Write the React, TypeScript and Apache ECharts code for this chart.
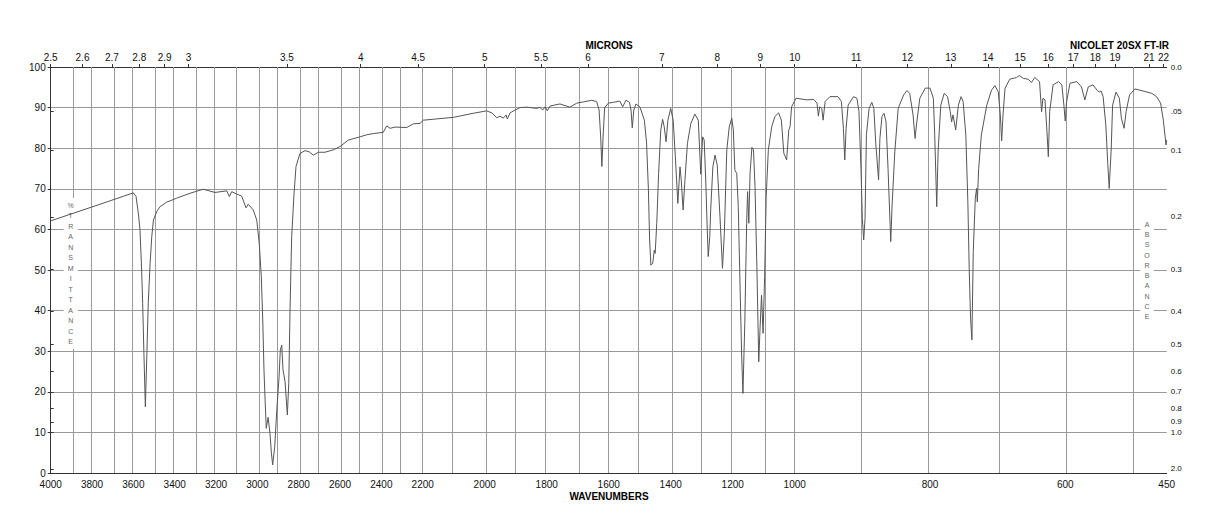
import React, { useEffect, useRef } from "react";
import * as echarts from "echarts";

// Spectrum: wavenumber (cm-1) and %transmittance
const wavenumbers = [
  4000, 3761, 3600, 3587, 3576, 3568, 3560, 3555, 3549, 3542,
  3535, 3528, 3519, 3511, 3503, 3487, 3471, 3439, 3390, 3326,
  3262, 3205, 3148, 3136, 3124, 3100, 3076, 3055, 3044, 3020,
  3003, 2991, 2981, 2974, 2968, 2962, 2957, 2948, 2939, 2932,
  2926, 2916, 2906, 2895, 2889, 2882, 2876, 2866, 2855, 2848,
  2842, 2834, 2823, 2813, 2794, 2769, 2749, 2729, 2705, 2673,
  2632, 2600, 2560, 2503, 2471, 2439, 2391, 2374, 2358, 2334,
  2277, 2245, 2213, 2198, 2101, 2037, 1994, 1977, 1961, 1951,
  1940, 1931, 1927, 1918, 1902, 1886, 1864, 1832, 1822, 1813,
  1805, 1798, 1789, 1757, 1725, 1703, 1682, 1655, 1639, 1631,
  1626, 1622, 1618, 1613, 1601, 1585, 1564, 1555, 1544, 1533,
  1528, 1524, 1519, 1512, 1499, 1485, 1478, 1472, 1468, 1464,
  1458, 1453, 1450, 1445, 1439, 1432, 1426, 1421, 1415, 1409,
  1400, 1392, 1385, 1377, 1370, 1366, 1360, 1354, 1346, 1335,
  1322, 1311, 1303, 1297, 1292, 1287, 1282, 1279, 1274, 1271,
  1264, 1257, 1250, 1241, 1233, 1227, 1219, 1211, 1203, 1198,
  1193, 1187, 1182, 1176, 1171, 1167, 1161, 1155, 1152, 1148,
  1144, 1138, 1133, 1128, 1122, 1116, 1112, 1107, 1102, 1097,
  1092, 1085, 1074, 1064, 1052, 1043, 1035, 1026, 1019, 1015,
  1010, 998, 982, 972, 967, 965, 963, 960, 958, 955,
  948, 936, 931, 928, 926, 924, 921, 913, 908, 905,
  902, 900, 898, 896, 894, 890, 886, 883, 880, 876,
  874, 871, 868, 865, 862, 858, 856, 852, 847, 839,
  834, 830, 825, 822, 820, 815, 807, 800, 795, 793,
  790, 788, 784, 779, 774, 770, 768, 766, 762, 758,
  754, 751, 747, 744, 742, 740, 738, 736, 733, 731,
  730, 728, 724, 716, 709, 704, 699, 696, 694, 692,
  689, 682, 672, 668, 662, 655, 650, 645, 638, 635,
  633, 630, 627, 625, 623, 618, 610, 605, 602, 600,
  598, 593, 583, 576, 571, 566, 559, 553, 550, 547,
  544, 540, 537, 535, 532, 530, 525, 520, 517, 513,
  510, 505, 497, 485, 472, 465, 459, 455, 451, 450,
];
const transmittance = [
  62.1, 66.2, 69.0, 68.1, 64.0, 59.9, 50.0, 41.8, 29.5, 16.3,
  28.6, 41.8, 51.6, 58.2, 62.3, 64.4, 65.6, 66.7, 67.7, 68.9,
  69.9, 69.1, 69.5, 68.1, 69.3, 68.7, 68.2, 65.3, 66.2, 64.8,
  62.3, 56.6, 48.4, 37.7, 25.4, 17.2, 11.0, 13.7, 9.8, 4.9,
  2.0, 6.5, 15.5, 23.7, 30.3, 31.5, 25.4, 22.5, 14.3, 22.1,
  40.1, 58.2, 68.5, 75.5, 78.7, 79.4, 79.1, 78.3, 79.0, 79.0,
  79.6, 80.4, 82.0, 82.8, 83.3, 83.6, 83.9, 85.5, 84.9, 85.2,
  85.1, 86.0, 86.1, 86.9, 87.6, 88.6, 89.2, 88.7, 87.5, 87.9,
  87.4, 88.2, 87.2, 88.7, 89.4, 90.0, 90.1, 89.8, 90.1, 89.4,
  90.2, 89.2, 90.4, 90.9, 90.1, 91.1, 91.4, 91.8, 91.5, 89.4,
  83.0, 75.5, 83.0, 90.0, 91.1, 91.3, 91.6, 90.2, 91.8, 91.3,
  89.4, 85.0, 89.4, 90.9, 90.1, 86.9, 81.5, 70.0, 57.4, 51.2,
  51.7, 54.9, 54.1, 61.5, 73.8, 84.5, 87.1, 85.3, 81.6, 86.9,
  89.8, 86.9, 77.9, 66.4, 75.4, 72.2, 64.8, 72.2, 81.2, 86.1,
  88.4, 86.9, 73.6, 82.8, 82.0, 72.2, 59.9, 53.3, 58.2, 64.8,
  75.4, 78.3, 75.9, 63.1, 50.4, 59.0, 79.6, 85.3, 87.4, 84.5,
  74.6, 73.8, 65.6, 45.1, 28.6, 19.6, 36.9, 61.5, 69.3, 61.5,
  73.8, 80.2, 79.6, 70.5, 50.8, 27.4, 35.2, 43.8, 34.4, 48.4,
  68.1, 79.6, 85.3, 87.8, 88.7, 86.9, 78.7, 77.1, 84.5, 85.3,
  90.2, 92.3, 91.9, 92.0, 91.1, 87.9, 90.2, 89.8, 86.9, 91.5,
  92.7, 92.7, 91.5, 84.9, 77.1, 84.9, 90.6, 92.7, 92.3, 89.0,
  75.0, 62.7, 57.4, 62.7, 83.3, 89.8, 91.3, 89.8, 80.8, 72.2,
  82.4, 87.8, 88.6, 86.5, 75.0, 57.0, 66.0, 79.1, 89.8, 93.1,
  94.2, 93.5, 88.2, 82.4, 85.7, 92.3, 94.8, 94.8, 92.3, 83.3,
  65.6, 79.1, 90.6, 93.5, 92.7, 89.0, 86.5, 88.2, 84.5, 90.6,
  92.7, 91.5, 83.3, 66.8, 50.4, 38.1, 32.8, 54.5, 67.7, 70.1,
  66.8, 75.0, 83.3, 90.6, 94.3, 95.4, 93.9, 88.2, 81.8, 88.2,
  94.8, 97.0, 97.4, 97.9, 97.2, 97.0, 96.2, 97.4, 96.4, 89.0,
  92.3, 91.9, 84.1, 77.9, 89.0, 95.6, 96.4, 95.6, 90.6, 86.7,
  91.5, 96.0, 96.4, 95.1, 91.9, 95.1, 95.6, 94.3, 93.8, 94.1,
  92.7, 85.7, 75.9, 70.1, 80.0, 90.6, 93.8, 92.3, 87.4, 84.9,
  89.0, 93.1, 94.6, 94.1, 93.5, 92.7, 91.1, 86.9, 80.8, 82.0,
];

// Axis tick labels
const wavenumberTicks = [
  4000, 3800, 3600, 3400, 3200, 3000, 2800, 2600, 2400, 2200,
  2000, 1800, 1600, 1400, 1200, 1000, 800, 600, 450,
];
const micronTicks = [
  2.5, 2.6, 2.7, 2.8, 2.9, 3, 3.5, 4, 4.5, 5, 5.5, 6, 7, 8, 9, 10,
  11, 12, 13, 14, 15, 16, 17, 18, 19, 21, 22,
];
const absorbanceTicks = [0, 0.05, 0.1, 0.2, 0.3, 0.4, 0.5, 0.6, 0.7, 0.8, 0.9, 1.0, 2.0];
const absorbanceLabels = ["0.0", ".05", "0.1", "0.2", "0.3", "0.4", "0.5", "0.6", "0.7", "0.8", "0.9", "1.0", "2.0"];

// Piecewise-linear wavenumber scale: 4000-2200, 2200-1000, 1000-450 each take a third
function toU(wn: number): number {
  if (wn >= 2200) return (4000 - wn) / 1800;
  if (wn >= 1000) return 1 + (2200 - wn) / 1200;
  return 2 + (1000 - wn) / 550;
}
const key = (v: number) => v.toFixed(5);

const FONT = '"Liberation Sans", Arial, Helvetica, sans-serif';

export default function App() {
  const ref = useRef<HTMLDivElement>(null);
  useEffect(() => {
    document.body.style.margin = "0";
    const chart = echarts.init(ref.current!, undefined, { renderer: "svg" });

    const spectrum = wavenumbers.map((w, i) => [toU(w), transmittance[i]]);

    const wnPos = wavenumberTicks.map(toU);
    const wnMap: Record<string, string> = {};
    wavenumberTicks.forEach((w) => (wnMap[key(toU(w))] = String(w)));

    const muPos = micronTicks.map((m) => toU(10000 / m));
    const muMap: Record<string, string> = {};
    micronTicks.forEach((m) => (muMap[key(toU(10000 / m))] = String(m)));

    const absPos = absorbanceTicks.map((a) => 100 * Math.pow(10, -a));
    const absMap: Record<string, string> = {};
    absorbanceTicks.forEach((a, i) => (absMap[key(100 * Math.pow(10, -a))] = absorbanceLabels[i]));

    const gridWn: number[] = [];
    for (let w = 3900; w >= 500; w -= 100) gridWn.push(w);

    const axisLineStyle = { color: "#333", width: 1 };

    const option: any = {
      animation: false,
      backgroundColor: "#fff",
      grid: { left: 50.7, right: 51.3, top: 67, bottom: 55, outerBoundsMode: "none", containLabel: false },
      xAxis: [
        {
          type: "value",
          position: "bottom",
          min: 0,
          max: 3,
          axisLine: { show: true, onZero: false, lineStyle: axisLineStyle },
          axisTick: { show: false },
          splitLine: { show: false },
          axisLabel: {
            customValues: wnPos,
            formatter: (v: number) => wnMap[key(v)] ?? "",
            color: "#111",
            fontFamily: FONT,
            fontSize: 10,
            margin: 6,
          },
        },
        {
          type: "value",
          position: "top",
          min: 0,
          max: 3,
          axisLine: { show: true, onZero: false, lineStyle: axisLineStyle },
          axisTick: { show: true, customValues: muPos, length: 3, lineStyle: axisLineStyle },
          splitLine: { show: false },
          axisLabel: {
            customValues: muPos,
            formatter: (v: number) => muMap[key(v)] ?? "",
            color: "#111",
            fontFamily: FONT,
            fontSize: 10,
            margin: 5,
          },
        },
      ],
      yAxis: [
        {
          type: "value",
          position: "left",
          min: 0,
          max: 100,
          interval: 10,
          axisLine: { show: true, lineStyle: axisLineStyle },
          axisTick: { show: true, length: 3, lineStyle: axisLineStyle },
          splitLine: { show: true, lineStyle: { color: "#9a9a9a", width: 1 } },
          axisLabel: { color: "#111", fontFamily: FONT, fontSize: 10, margin: 5 },
        },
        {
          type: "value",
          position: "right",
          min: 0,
          max: 100,
          axisLine: { show: true, lineStyle: axisLineStyle },
          axisTick: { show: true, customValues: absPos, length: 3, lineStyle: axisLineStyle },
          splitLine: { show: false },
          axisLabel: {
            customValues: absPos,
            formatter: (v: number) => absMap[key(v)] ?? "",
            color: "#111",
            fontFamily: FONT,
            fontSize: 8,
            margin: 4,
          },
        },
      ],
      graphic: [
        {
          type: "text",
          x: 609,
          y: 45,
          z: 10,
          style: {
            text: "MICRONS",
            font: `bold 10px ${FONT}`,
            fill: "#000",
            align: "center",
            textAlign: "center",
            verticalAlign: "middle",
            textVerticalAlign: "middle",
          },
        },
        {
          type: "text",
          x: 1169,
          y: 45,
          z: 10,
          style: {
            text: "NICOLET 20SX FT-IR",
            font: `bold 10px ${FONT}`,
            fill: "#000",
            align: "right",
            textAlign: "right",
            verticalAlign: "middle",
            textVerticalAlign: "middle",
          },
        },
        {
          type: "text",
          x: 609,
          y: 496.5,
          z: 10,
          style: {
            text: "WAVENUMBERS",
            font: `bold 10px ${FONT}`,
            fill: "#000",
            align: "center",
            textAlign: "center",
            verticalAlign: "middle",
            textVerticalAlign: "middle",
          },
        },
        {
          type: "text",
          x: 70.7,
          y: 198,
          z: 2,
          style: {
            text: "%TRANSMITTANCE".split("").join("\n"),
            font: `7px ${FONT}`,
            lineHeight: 10.5,
            fill: "#666",
            align: "center",
            textAlign: "center",
            verticalAlign: "top",
            textVerticalAlign: "top",
            backgroundColor: "#fff",
            padding: [2, 4, 2, 4],
          },
        },
        {
          type: "text",
          x: 1147,
          y: 217,
          z: 2,
          style: {
            text: "ABSORBANCE".split("").join("\n"),
            font: `7px ${FONT}`,
            lineHeight: 10.3,
            fill: "#666",
            align: "center",
            textAlign: "center",
            verticalAlign: "top",
            textVerticalAlign: "top",
            backgroundColor: "#fff",
            padding: [2, 4, 2, 4],
          },
        },
      ],
      series: [
        {
          type: "line",
          name: "grid",
          xAxisIndex: 0,
          yAxisIndex: 0,
          data: [],
          z: 1,
          silent: true,
          markLine: {
            z: 1,
            silent: true,
            symbol: ["none", "none"],
            label: { show: false },
            lineStyle: { color: "#9a9a9a", width: 1, type: "solid" },
            emphasis: { disabled: true },
            data: gridWn.map((w) => ({ xAxis: toU(w) })),
          },
        },
        {
          type: "line",
          name: "spectrum",
          xAxisIndex: 0,
          yAxisIndex: 0,
          data: spectrum,
          showSymbol: false,
          symbol: "none",
          z: 5,
          silent: true,
          lineStyle: { color: "#555", width: 1 },
        },
      ],
    };
    chart.setOption(option);
    return () => chart.dispose();
  }, []);
  return (
    <div
      ref={ref}
      style={{ position: "absolute", left: 0, top: 0, width: 1218, height: 528 }}
    />
  );
}
